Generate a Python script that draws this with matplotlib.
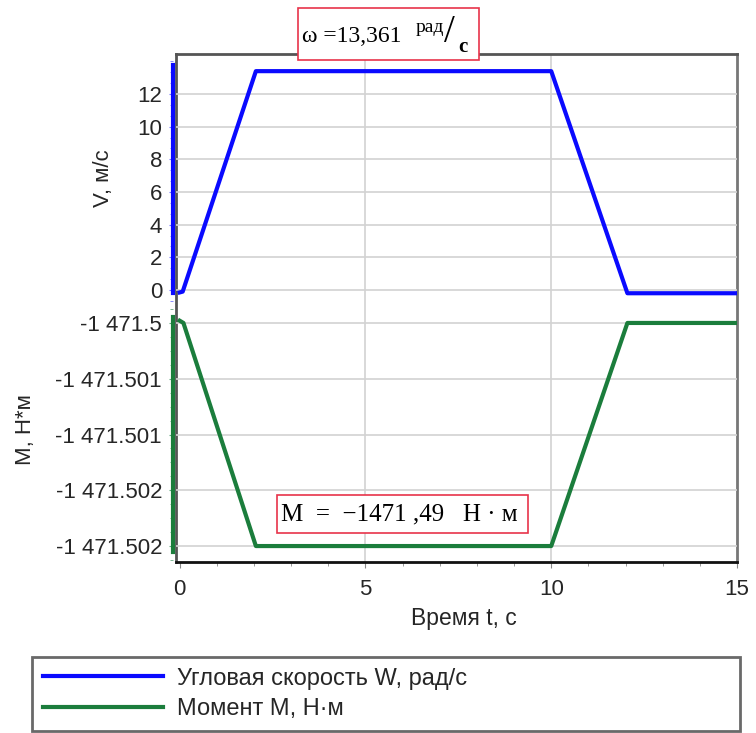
import matplotlib
matplotlib.use('Agg')
from matplotlib import pyplot as plt
from matplotlib.patches import Rectangle
from matplotlib.ticker import MultipleLocator, FixedLocator, AutoMinorLocator

# %% data
t = [0, 0.08, 2.05, 10, 12.05, 15]
omega = [-0.15, -0.1, 13.4, 13.4, -0.2, -0.2]
t_m = [0, 0.1, 2.05, 10, 12.05, 15]
moment = [-1471.49998, -1471.5, -1471.502, -1471.502, -1471.5, -1471.5]

x_ticks = [0, 5, 10, 15]
v_ticks = [0, 2, 4, 6, 8, 10, 12]
m_ticks = [-1471.5, -1471.5005, -1471.501, -1471.5015, -1471.502]
m_tick_labels = ['-1 471.5', '-1 471.501', '-1 471.501', '-1 471.502', '-1 471.502']

label_w = 'Угловая скорость W, рад/с'
label_m = 'Момент M, Н·м'

blue = '#0a0aff'
green = '#1b7d3c'
grid_c = '#d2d2d2'
tick_c = '#262626'
fs = 16

plt.rcParams['font.family'] = ['Liberation Sans', 'DejaVu Sans']

W, H = 756, 733
fig = plt.figure(figsize=(W / 100, H / 100), dpi=100)

def fx(px):
    return px / W

def fy(py):
    return 1 - py / H

def rect(x0, y0, x1, y1):
    return [fx(x0), fy(y1), fx(x1) - fx(x0), fy(y0) - fy(y1)]

# %% frame axes (box, x axis, vertical grid)
xl = (-0.1, 15.0)
box = (176, 54, 737, 562)
split = 305

axf = fig.add_axes(rect(*box))
axf.set_xlim(*xl)
axf.set_ylim(0, 1)
axf.set_yticks([])
axf.xaxis.set_major_locator(FixedLocator(x_ticks))
axf.xaxis.set_minor_locator(MultipleLocator(1))
axf.tick_params(axis='x', which='major', length=4, color='#888888', labelsize=fs,
                labelcolor=tick_c, pad=8)
axf.tick_params(axis='x', which='minor', length=3, color='#888888')
for x in x_ticks[1:3]:
    axf.axvline(x, color=grid_c, lw=1.2, zorder=0)
axf.spines['top'].set_color('#555555')
axf.spines['left'].set_color('#555555')
axf.spines['right'].set_color('#777777')
axf.spines['bottom'].set_color('#111111')
for s in axf.spines.values():
    s.set_linewidth(2)
fig.text(fx(464), fy(618), 'Время t, с', fontsize=16.5, color=tick_c,
         ha='center', va='center')

# %% top pane: angular speed
ax1 = fig.add_axes(rect(box[0], box[1], box[2], split))
ax1.patch.set_alpha(0)
ax1.set_xlim(*xl)
ax1.set_ylim(-0.92, 14.45)
ax1.plot(t, omega, color=blue, lw=3, solid_joinstyle='round')
ax1.set_xticks([])
ax1.set_yticks(v_ticks)
ax1.yaxis.set_minor_locator(AutoMinorLocator(3))
for v in v_ticks:
    ax1.axhline(v, color=grid_c, lw=1.2, zorder=0)
for side in ['top', 'right', 'bottom']:
    ax1.spines[side].set_visible(False)
ax1.spines['left'].set_position(('outward', 2))
ax1.spines['left'].set_color(blue)
ax1.spines['left'].set_linewidth(3)
ax1.spines['left'].set_bounds(-0.2, 13.75)
ax1.tick_params(axis='y', which='major', length=3, color='#7777ff', labelsize=fs,
                labelcolor=tick_c, pad=5)
ax1.tick_params(axis='y', which='minor', length=2, color='#7777ff')
fig.text(fx(103), fy(178), 'V, м/с', fontsize=16, color=tick_c, rotation=90,
         ha='center', va='center')

# %% bottom pane: moment
ax2 = fig.add_axes(rect(box[0], split, box[2], box[3]))
ax2.patch.set_alpha(0)
ax2.set_xlim(*xl)
ax2.set_ylim(-1471.502143, -1471.499839)
ax2.plot(t_m, moment, color=green, lw=3, solid_joinstyle='round')
ax2.set_xticks([])
ax2.set_yticks(m_ticks)
ax2.set_yticklabels(m_tick_labels)
ax2.yaxis.set_minor_locator(AutoMinorLocator(4))
for m in m_ticks:
    ax2.axhline(m, color=grid_c, lw=1.2, zorder=0)
for side in ['top', 'right', 'bottom']:
    ax2.spines[side].set_visible(False)
ax2.spines['left'].set_position(('outward', 2))
ax2.spines['left'].set_color(green)
ax2.spines['left'].set_linewidth(3)
ax2.spines['left'].set_bounds(-1471.50205, -1471.49995)
ax2.tick_params(axis='y', which='major', length=3, color='#66aa80', labelsize=fs,
                labelcolor=tick_c, pad=5)
ax2.tick_params(axis='y', which='minor', length=2, color='#66aa80')
fig.text(fx(26), fy(430), 'М, Н*м', fontsize=16, color=tick_c, rotation=90,
         ha='center', va='center')

# %% formula boxes
serif = ['Liberation Serif', 'DejaVu Serif']
fig.patches.append(Rectangle((fx(298), fy(60)), fx(479) - fx(298), fy(8) - fy(60),
                             transform=fig.transFigure, fill=True, facecolor='white',
                             edgecolor='#e8334a', lw=1.2, zorder=5))
fig.text(fx(302), fy(37), 'ω =13,361', family=serif, fontsize=17, va='center', zorder=6)
fig.text(fx(416), fy(27), 'рад', family=serif, fontsize=14, va='center', zorder=6)
fig.text(fx(449), fy(33), '/', family=serif, fontsize=28, va='center', ha='center',
         zorder=6)
fig.text(fx(458), fy(47), 'с', family=serif, fontsize=15, fontweight='bold',
         va='center', zorder=6)

fig.patches.append(Rectangle((fx(277), fy(533)), fx(528) - fx(277), fy(495) - fy(533),
                             transform=fig.transFigure, fill=True, facecolor='white',
                             edgecolor='#e8334a', lw=1.2, zorder=5))
fig.text(fx(281), fy(514), 'M  =  −1471 ,49   Н · м', family=serif, fontsize=18,
         va='center', zorder=6)

# %% legend
leg = fig.legend(handles=[plt.Line2D([], [], color=blue, lw=3),
                          plt.Line2D([], [], color=green, lw=3)],
                 labels=[label_w, label_m], loc='upper left',
                 bbox_to_anchor=(fx(32), fy(657) - 0.1, fx(740) - fx(32), 0.1),
                 mode='expand', fancybox=False, fontsize=17, handlelength=5.1,
                 handletextpad=0.6, labelspacing=0.35, borderpad=0.45, borderaxespad=0)
leg.get_frame().set_edgecolor('#444444')
leg.get_frame().set_linewidth(2)
for txt in leg.get_texts():
    txt.set_color(tick_c)

fig.savefig('out.png', dpi=100)
